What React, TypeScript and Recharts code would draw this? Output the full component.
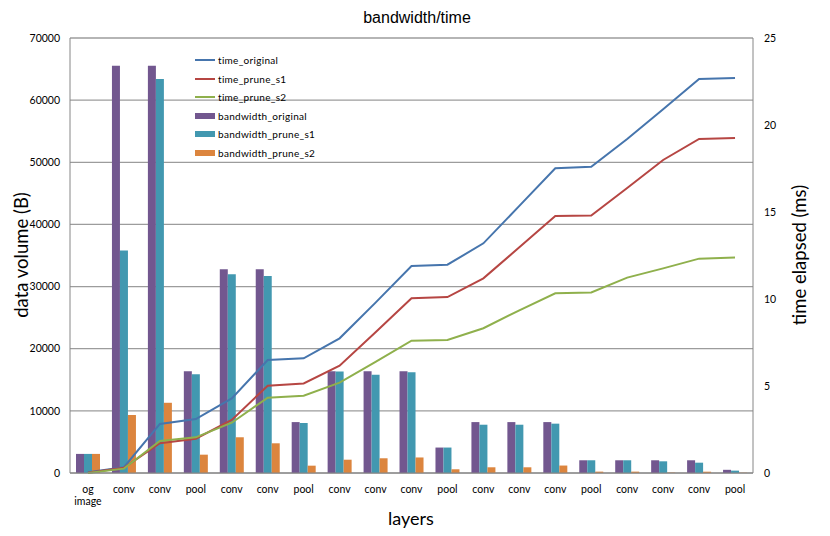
import React from 'react';
import { ComposedChart, Bar, Line, XAxis, YAxis, CartesianGrid, Label } from 'recharts';

// layer names along the x axis
const layers = ['og\nimage', 'conv', 'conv', 'pool', 'conv', 'conv', 'pool', 'conv', 'conv', 'conv', 'pool', 'conv', 'conv', 'conv', 'pool', 'conv', 'conv', 'conv', 'pool'];

// data volume (B)
const bwOriginal = [3072, 65536, 65536, 16384, 32768, 32768, 8192, 16384, 16384, 16384, 4096, 8192, 8192, 8192, 2048, 2048, 2048, 2048, 512];
const bwPruneS1 = [3072, 35800, 63400, 15900, 32000, 31700, 8050, 16350, 15800, 16200, 4096, 7770, 7770, 7940, 2048, 2048, 1880, 1660, 380];
const bwPruneS2 = [3072, 9330, 11300, 2950, 5750, 4780, 1180, 2140, 2370, 2500, 600, 920, 920, 1200, 220, 220, 60, 210, 40];

// time elapsed (ms)
const timeOriginal = [0.05, 0.33, 2.82, 3.1, 4.29, 6.49, 6.59, 7.74, 9.79, 11.9, 11.97, 13.2, 15.35, 17.51, 17.6, 19.2, 20.9, 22.64, 22.7];
const timePruneS1 = [0.02, 0.3, 1.71, 1.97, 3.05, 5.02, 5.15, 6.17, 8.09, 10.04, 10.11, 11.19, 12.97, 14.77, 14.8, 16.38, 17.99, 19.2, 19.25];
const timePruneS2 = [0.0, 0.25, 1.84, 2.05, 2.89, 4.33, 4.44, 5.19, 6.38, 7.6, 7.64, 8.32, 9.35, 10.33, 10.38, 11.23, 11.76, 12.32, 12.38];

const leftTicks = [0, 10000, 20000, 30000, 40000, 50000, 60000, 70000];
const rightTicks = [0, 5, 10, 15, 20, 25];

const C = {
    purple: '#72578f',
    teal: '#4298b0',
    orange: '#dc853e',
    blue: '#4675ad',
    red: '#b64643',
    green: '#8fb04c',
    grid: '#9c9c9c',
};

const font = 'Lato, "Noto Sans", sans-serif';

const chartData = layers.map((layer, i) => ({
    layer,
    bandwidth_original: bwOriginal[i],
    bandwidth_prune_s1: bwPruneS1[i],
    bandwidth_prune_s2: bwPruneS2[i],
    time_original: timeOriginal[i],
    time_prune_s1: timePruneS1[i],
    time_prune_s2: timePruneS2[i],
}));

const legendItems = [
    { name: 'time_original', color: C.blue, kind: 'line' },
    { name: 'time_prune_s1', color: C.red, kind: 'line' },
    { name: 'time_prune_s2', color: C.green, kind: 'line' },
    { name: 'bandwidth_original', color: C.purple, kind: 'bar' },
    { name: 'bandwidth_prune_s1', color: C.teal, kind: 'bar' },
    { name: 'bandwidth_prune_s2', color: C.orange, kind: 'bar' },
];

function LayerTick({ x, y, payload }: any) {
    const lines = String(payload.value).split('\n');
    return (
        <text x={x} y={y} textAnchor="middle" fontSize={10.5} fontFamily={font} fill="#000">
            {lines.map((l, i) => (
                <tspan key={i} x={x} dy={i === 0 ? 17.5 : 12.6}>{l}</tspan>
            ))}
        </text>
    );
}

// legend sits inside the plot area, drawn as an overlay so it takes no room
function LegendBox() {
    return (
        <div style={{ position: 'absolute', left: 195, top: 51, fontFamily: font, fontSize: 10, letterSpacing: 0.3, color: '#000', pointerEvents: 'none' }}>
            {legendItems.map(it => (
                <div key={it.name} style={{ display: 'flex', alignItems: 'center', height: 18.5, whiteSpace: 'nowrap' }}>
                    <span style={{
                        display: 'inline-block', width: 20,
                        height: it.kind === 'line' ? 2 : 6,
                        background: it.color, marginRight: 3,
                    }} />
                    {it.name}
                </div>
            ))}
        </div>
    );
}

export default function App() {
    return (
        <div style={{ position: 'fixed', left: 0, top: 0, width: 830, height: 536, background: '#fff' }}>
            <div style={{ position: 'absolute', left: 0, top: 8, width: 830, textAlign: 'center', paddingLeft: 2, fontFamily: '"Liberation Sans", Arial, sans-serif', fontSize: 16, lineHeight: '20px', color: '#000' }}>
                bandwidth/time
            </div>
            <ComposedChart width={830} height={536} data={chartData} margin={{ top: 38, right: 0, left: 0, bottom: 0 }} barGap={0} barSize={8}>
                <CartesianGrid yAxisId="left" vertical={false} stroke={C.grid} strokeWidth={1.3} />
                <XAxis dataKey="layer" interval={0} height={63} tick={<LayerTick />} tickLine={false} tickSize={0} axisLine={{ stroke: '#868686' }}>
                    <Label content={() => (
                        <text x={411} y={525} textAnchor="middle" fontSize={18} fontFamily={font} fill="#000">layers</text>
                    )} />
                </XAxis>
                <YAxis yAxisId="left" orientation="left" width={70} domain={[0, 70000]} ticks={leftTicks} interval={0}
                    tick={{ fontSize: 10.5, fontFamily: font, fill: '#000' }} tickLine={false} tickSize={0} tickMargin={10} axisLine={{ stroke: '#868686' }}>
                    <Label content={() => (
                        <text x={28} y={255} transform="rotate(-90 28 255)" textAnchor="middle" fontSize={18.5} fontFamily={font} fill="#000">data volume (B)</text>
                    )} />
                </YAxis>
                <YAxis yAxisId="right" orientation="right" width={77} domain={[0, 25]} ticks={rightTicks} interval={0}
                    tick={{ fontSize: 10.5, fontFamily: font, fill: '#000' }} tickLine={false} tickSize={0} tickMargin={11} axisLine={{ stroke: '#868686' }}>
                    <Label content={() => (
                        <text x={806} y={255} transform="rotate(-90 806 255)" textAnchor="middle" fontSize={18.5} fontFamily={font} fill="#000">time elapsed (ms)</text>
                    )} />
                </YAxis>
                <Bar yAxisId="left" dataKey="bandwidth_original" fill={C.purple} isAnimationActive={false} />
                <Bar yAxisId="left" dataKey="bandwidth_prune_s1" fill={C.teal} isAnimationActive={false} />
                <Bar yAxisId="left" dataKey="bandwidth_prune_s2" fill={C.orange} isAnimationActive={false} />
                <Line yAxisId="right" type="linear" dataKey="time_original" stroke={C.blue} strokeWidth={2} dot={false} isAnimationActive={false} />
                <Line yAxisId="right" type="linear" dataKey="time_prune_s1" stroke={C.red} strokeWidth={2} dot={false} isAnimationActive={false} />
                <Line yAxisId="right" type="linear" dataKey="time_prune_s2" stroke={C.green} strokeWidth={2} dot={false} isAnimationActive={false} />
            </ComposedChart>
            <LegendBox />
        </div>
    );
}
